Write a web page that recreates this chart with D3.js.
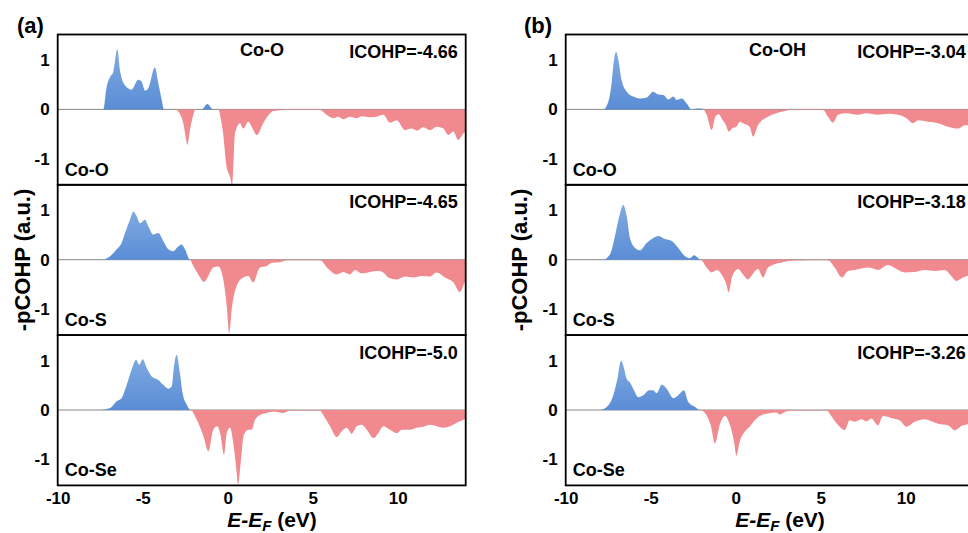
<!DOCTYPE html>
<html>
<head>
<meta charset="utf-8">
<script src="https://cdn.jsdelivr.net/npm/d3@7"></script>
<style>
  body { margin: 0; background: #fff; }
  text { font-family: "Liberation Sans", Arial, sans-serif; font-weight: bold; fill: #000; }
</style>
</head>
<body>
<svg id="chart" width="968" height="533"></svg>
<script>
// -pCOHP curves, [E - Ef (eV), value]
var a_CoO = [[-10,0],[-7.5,0],[-7.32,0],[-7.12,0.46],[-6.92,0.66],[-6.73,0.76],[-6.49,1.22],[-6.34,0.8],[-6.04,0.49],[-5.65,0.4],[-5.26,0.6],[-5.06,0.56],[-4.86,0.38],[-4.67,0.43],[-4.28,0.85],[-4.08,0.53],[-3.88,0.19],[-3.75,0],[-3.09,0],[-2.8,-0.1],[-2.6,-0.3],[-2.45,-0.6],[-2.37,-0.72],[-2.22,-0.42],[-2.03,-0.12],[-1.9,0],[-1.53,0],[-1.2,0.11],[-0.85,0],[-0.55,0],[-0.4,-0.2],[-0.27,-0.49],[-0.07,-1.16],[0.13,-1.36],[0.26,-1.52],[0.43,-0.49],[0.72,-0.28],[0.92,-0.39],[1.21,-0.25],[1.41,-0.35],[1.71,-0.52],[2.09,-0.28],[2.49,-0.08],[2.68,-0.03],[3.5,-0.01],[5.43,-0.01],[5.82,-0.11],[6.21,-0.18],[6.51,-0.15],[6.8,-0.2],[7.19,-0.15],[7.59,-0.18],[7.88,-0.14],[8.37,-0.16],[8.76,-0.15],[9.15,-0.11],[9.55,-0.27],[9.94,-0.22],[10.43,-0.42],[10.82,-0.39],[11.12,-0.43],[11.51,-0.36],[11.9,-0.42],[12.29,-0.35],[12.68,-0.39],[12.98,-0.52],[13.27,-0.45],[13.56,-0.62],[13.86,-0.49],[14,-0.45]];
var a_CoS = [[-10,0],[-7.41,0],[-6.92,0.07],[-6.53,0.21],[-6.24,0.34],[-6.04,0.54],[-5.75,0.81],[-5.55,0.98],[-5.35,0.88],[-5.16,0.74],[-4.86,0.81],[-4.67,0.68],[-4.38,0.51],[-4.08,0.54],[-3.79,0.38],[-3.49,0.21],[-3.2,0.17],[-3.0,0.24],[-2.71,0.31],[-2.51,0.21],[-2.22,0],[-2.02,-0.13],[-1.73,-0.3],[-1.39,-0.45],[-1.14,-0.33],[-0.85,-0.16],[-0.55,-0.14],[-0.26,-0.4],[-0.06,-0.93],[0.09,-1.5],[0.24,-1.0],[0.53,-0.53],[0.92,-0.36],[1.21,-0.33],[1.5,-0.46],[1.9,-0.16],[2.29,-0.13],[2.59,-0.06],[3.08,-0.05],[3.47,-0.01],[5.43,-0.01],[5.92,-0.19],[6.41,-0.3],[6.8,-0.25],[7.19,-0.3],[7.49,-0.21],[7.88,-0.28],[8.37,-0.25],[8.86,-0.23],[9.15,-0.26],[9.45,-0.36],[9.94,-0.4],[10.43,-0.34],[10.92,-0.36],[11.41,-0.33],[11.9,-0.34],[12.29,-0.26],[12.78,-0.36],[13.27,-0.46],[13.66,-0.66],[13.96,-0.46],[14,-0.45]];
var a_CoSe = [[-10,0],[-7.51,0],[-6.92,0.04],[-6.53,0.18],[-6.24,0.24],[-5.94,0.51],[-5.65,0.82],[-5.39,1.02],[-5.2,0.92],[-5.0,1.03],[-4.76,0.85],[-4.47,0.68],[-4.08,0.61],[-3.79,0.51],[-3.49,0.43],[-3.29,0.48],[-3.16,0.89],[-3.0,1.12],[-2.81,0.75],[-2.65,0.34],[-2.41,0.11],[-2.18,0],[-1.82,-0.2],[-1.43,-0.53],[-1.14,-0.84],[-0.85,-0.4],[-0.61,-0.33],[-0.41,-0.53],[-0.22,-0.91],[-0.06,-0.47],[0.135,-0.36],[0.33,-0.67],[0.49,-1.14],[0.62,-1.51],[0.76,-1.08],[0.95,-0.5],[1.21,-0.4],[1.41,-0.4],[1.61,-0.2],[1.9,-0.1],[2.29,-0.06],[2.68,-0.03],[3.27,-0.06],[3.66,-0.01],[5.43,-0.01],[5.62,-0.1],[6.02,-0.33],[6.41,-0.55],[6.71,-0.43],[7.0,-0.36],[7.3,-0.48],[7.59,-0.33],[7.88,-0.3],[8.18,-0.4],[8.57,-0.57],[8.86,-0.47],[9.15,-0.33],[9.55,-0.4],[9.94,-0.47],[10.24,-0.4],[10.72,-0.4],[11.12,-0.36],[11.51,-0.34],[11.9,-0.3],[12.29,-0.33],[12.68,-0.36],[13.08,-0.33],[13.47,-0.26],[13.86,-0.2],[14,-0.18]];
var b_CoOH = [[-10,0],[-7.79,0],[-7.49,0.16],[-7.3,0.53],[-7.16,1.0],[-7.04,1.17],[-6.9,1.0],[-6.71,0.59],[-6.41,0.36],[-6.02,0.26],[-5.63,0.22],[-5.24,0.24],[-4.85,0.36],[-4.55,0.3],[-4.26,0.29],[-3.96,0.2],[-3.67,0.26],[-3.47,0.19],[-3.18,0.22],[-2.88,0.12],[-2.59,0],[-2.3,0.02],[-2.0,0.02],[-1.91,0],[-1.71,-0.11],[-1.41,-0.42],[-1.2,-0.15],[-1.0,-0.1],[-0.8,-0.2],[-0.6,-0.3],[-0.4,-0.45],[-0.2,-0.38],[0.04,-0.35],[0.25,-0.25],[0.43,-0.28],[0.82,-0.35],[1.02,-0.55],[1.31,-0.32],[1.9,-0.15],[2.39,-0.08],[2.88,-0.03],[3.3,-0.01],[5.14,-0.01],[5.43,-0.15],[5.72,-0.27],[6.02,-0.11],[6.51,-0.08],[7.19,-0.11],[7.68,-0.08],[8.37,-0.11],[8.96,-0.09],[9.55,-0.11],[10.04,-0.18],[10.43,-0.28],[10.72,-0.22],[11.31,-0.25],[11.9,-0.28],[12.49,-0.35],[13.08,-0.39],[13.47,-0.32],[14,-0.33]];
var b_CoS = [[-10,0],[-7.79,0],[-7.39,0.11],[-7.1,0.48],[-6.85,0.88],[-6.61,1.11],[-6.41,0.88],[-6.22,0.44],[-5.92,0.24],[-5.63,0.19],[-5.24,0.34],[-4.85,0.44],[-4.55,0.48],[-4.16,0.42],[-3.76,0.38],[-3.38,0.24],[-2.98,0.07],[-2.69,0.03],[-2.45,0.09],[-2.2,0.03],[-2.06,0],[-1.71,-0.16],[-1.41,-0.26],[-1.12,-0.21],[-0.73,-0.36],[-0.55,-0.5],[-0.42,-0.66],[-0.2,-0.33],[0.14,-0.19],[0.43,-0.3],[0.72,-0.4],[0.92,-0.33],[1.31,-0.19],[1.61,-0.36],[1.9,-0.16],[2.29,-0.09],[2.78,-0.05],[3.27,-0.02],[5.43,-0.01],[5.82,-0.16],[6.25,-0.36],[6.61,-0.23],[7.0,-0.21],[7.39,-0.18],[7.88,-0.16],[8.37,-0.21],[8.96,-0.11],[9.45,-0.19],[9.94,-0.26],[10.53,-0.25],[11.12,-0.21],[11.71,-0.23],[12.29,-0.21],[12.68,-0.33],[12.98,-0.43],[13.37,-0.36],[14,-0.3]];
var b_CoSe = [[-10,0],[-7.98,0],[-7.59,0.06],[-7.2,0.3],[-6.96,0.63],[-6.75,1.0],[-6.61,0.9],[-6.41,0.63],[-6.22,0.56],[-5.98,0.4],[-5.73,0.26],[-5.44,0.3],[-5.08,0.4],[-4.85,0.4],[-4.65,0.34],[-4.35,0.51],[-4.06,0.43],[-3.67,0.24],[-3.38,0.3],[-3.04,0.4],[-2.79,0.16],[-2.39,0.06],[-2.1,0],[-1.71,-0.11],[-1.47,-0.31],[-1.22,-0.68],[-0.92,-0.28],[-0.63,-0.12],[-0.33,-0.31],[-0.1,-0.64],[0.04,-0.93],[0.24,-0.64],[0.53,-0.44],[0.82,-0.34],[1.12,-0.21],[1.41,-0.12],[1.9,-0.07],[2.39,-0.05],[2.59,-0.09],[2.88,-0.04],[3.27,-0.01],[5.33,-0.01],[5.72,-0.17],[6.12,-0.34],[6.41,-0.41],[6.71,-0.21],[7.0,-0.24],[7.39,-0.19],[7.68,-0.23],[7.98,-0.17],[8.37,-0.31],[8.66,-0.12],[9.15,-0.16],[9.64,-0.21],[10.04,-0.34],[10.53,-0.24],[11.12,-0.19],[11.51,-0.23],[11.9,-0.28],[12.49,-0.31],[12.88,-0.41],[13.37,-0.31],[14,-0.28]];

var bondsA = ["Co-O", "Co-S", "Co-Se"];
var bondsB = ["Co-O", "Co-S", "Co-Se"];
var icohpA = ["-4.66", "-4.65", "-5.0"];
var icohpB = ["-3.04", "-3.18", "-3.26"];
var xTicks = [-10, -5, 0, 5, 10];
var yTicks = [-1, 0, 1];

var svg = d3.select("#chart");

var defs = svg.append("defs");
var grad = defs.append("linearGradient")
    .attr("id", "blueFill")
    .attr("x1", 0).attr("y1", 0).attr("x2", 0).attr("y2", 1);
grad.append("stop").attr("offset", "0%").attr("stop-color", "#80aae1");
grad.append("stop").attr("offset", "100%").attr("stop-color", "#5a8dd6");

var panels = [
    {tag: "(a)", left: 57.7, series: [a_CoO, a_CoS, a_CoSe], bonds: bondsA, icohp: icohpA,
     topLabel: "Co-O", topLabelX: 240, yTitleX: 22, xTitleX: 272, tagX: 17},
    {tag: "(b)", left: 565.7, series: [b_CoOH, b_CoS, b_CoSe], bonds: bondsB, icohp: icohpB,
     topLabel: "Co-OH", topLabelX: 749, yTitleX: 519, xTitleX: 780, tagX: 524}
];

var top0 = 34.5, rowH = 150.3, plotW = 408;

panels.forEach(function(p) {
    var x = d3.scaleLinear().domain([-10, 14]).range([p.left, p.left + plotW]);

    p.series.forEach(function(data, r) {
        var t = top0 + r * rowH;
        var y = d3.scaleLinear().domain([-1.53, 1.52]).range([t + rowH, t]);
        var g = svg.append("g");

        // zero line
        g.append("line")
            .attr("x1", x(-10)).attr("x2", x(14))
            .attr("y1", y(0)).attr("y2", y(0))
            .attr("stroke", "#888").attr("stroke-width", 1);

        var pos = d3.area()
            .x(function(d) { return x(d[0]); })
            .y0(y(0))
            .y1(function(d) { return y(Math.max(d[1], 0)); })
            .curve(d3.curveMonotoneX);
        var neg = d3.area()
            .x(function(d) { return x(d[0]); })
            .y0(y(0))
            .y1(function(d) { return y(Math.min(d[1], 0)); })
            .curve(d3.curveMonotoneX);

        g.append("path").datum(data).attr("d", pos).attr("fill", "url(#blueFill)");
        g.append("path").datum(data).attr("d", neg).attr("fill", "#f08a8e");

        g.append("g")
            .attr("transform", "translate(" + p.left + ",0)")
            .call(d3.axisLeft(y).tickValues(yTicks).tickSize(0).tickPadding(8)
                .tickFormat(function(d) { return String(d); }))
            .call(function(s) { s.select(".domain").remove(); })
            .selectAll("text")
            .style("font-size", "17px").style("font-weight", "bold")
            .attr("font-family", null).attr("fill", "#000");

        if (r === 2) {
            g.append("g")
                .attr("transform", "translate(0," + (t + rowH) + ")")
                .call(d3.axisBottom(x).tickValues(xTicks).tickSize(0).tickPadding(7)
                    .tickFormat(function(d) { return String(d); }))
                .call(function(s) { s.select(".domain").remove(); })
                .selectAll("text")
                .style("font-size", "17px").style("font-weight", "bold")
                .attr("font-family", null).attr("fill", "#000");
        }

        g.append("rect")
            .attr("x", p.left).attr("y", t)
            .attr("width", plotW).attr("height", rowH)
            .attr("fill", "none").attr("stroke", "#000").attr("stroke-width", 1.8);

        g.append("text")
            .attr("x", p.left + 7).attr("y", t + rowH - 9)
            .style("font-size", "18px")
            .text(p.bonds[r]);

        g.append("text")
            .attr("x", p.left + plotW - 8).attr("y", t + 23.5)
            .attr("text-anchor", "end")
            .style("font-size", "18px")
            .text("ICOHP=" + p.icohp[r]);

        if (r === 0) {
            g.append("text")
                .attr("x", p.topLabelX).attr("y", t + 21)
                .style("font-size", "18px")
                .text(p.topLabel);
        }
    });

    svg.append("text")
        .attr("x", p.tagX).attr("y", 33)
        .style("font-size", "22px")
        .text(p.tag);

    svg.append("text")
        .attr("transform", "translate(" + p.yTitleX + "," + 260 + ") rotate(-90)")
        .attr("text-anchor", "middle")
        .attr("dy", "0.35em")
        .style("font-size", "22px")
        .text("-pCOHP (a.u.)");

    var xt = svg.append("text")
        .attr("x", p.xTitleX).attr("y", 527)
        .attr("text-anchor", "middle")
        .style("font-size", "21px");
    xt.append("tspan").style("font-style", "italic").text("E-E");
    xt.append("tspan").style("font-style", "italic").style("font-size", "15px")
        .attr("dy", 4).text("F");
    xt.append("tspan").attr("dy", -4).text(" (eV)");
});
</script>
</body>
</html>
